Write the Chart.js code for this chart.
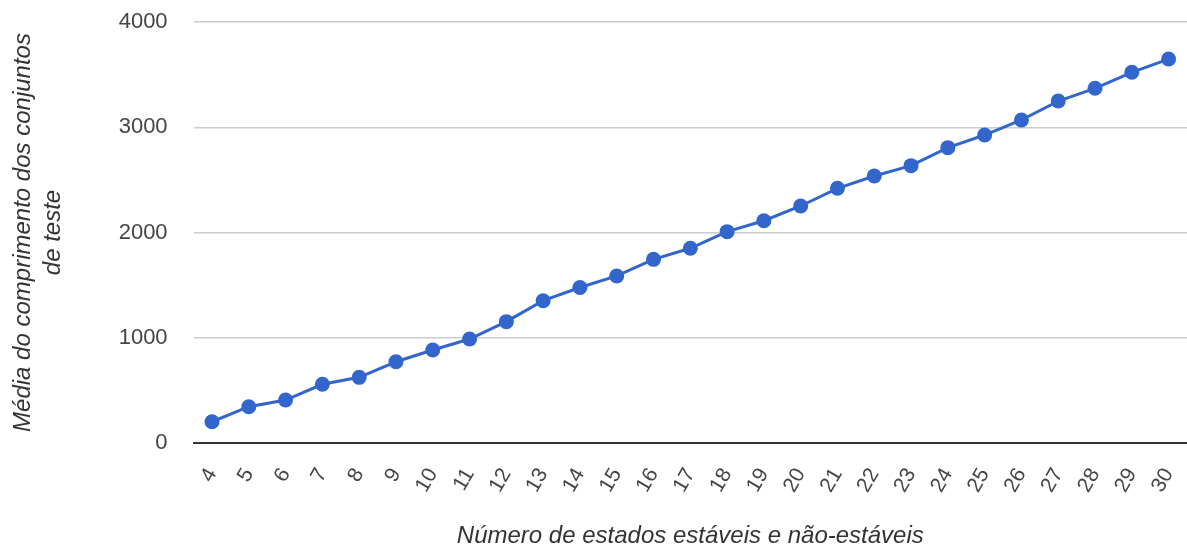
<!DOCTYPE html>
<html>
<head>
<meta charset="utf-8">
<script src="https://cdn.jsdelivr.net/npm/chart.js@4/dist/chart.umd.min.js"></script>
<style>
  html, body { margin: 0; padding: 0; background: #fff; }
  #wrap { width: 1187px; height: 547px; }
</style>
</head>
<body>
<div id="wrap"><canvas id="c" width="1187" height="547"></canvas></div>
<script>
// Number of stable and non-stable states
const estados = [4, 5, 6, 7, 8, 9, 10, 11, 12, 13, 14, 15, 16, 17, 18, 19, 20, 21, 22, 23, 24, 25, 26, 27, 28, 29, 30];
// Average length of the test sets
const mediaComprimento = [202, 345, 408, 558, 624, 772, 884, 988, 1153, 1352, 1477, 1587, 1745, 1850, 2008, 2112, 2252, 2420, 2537, 2635, 2806, 2926, 3069, 3249, 3370, 3522, 3648];
const yTicks = [0, 1000, 2000, 3000, 4000];

const FONT = "'Liberation Sans', Arial, sans-serif";

new Chart(document.getElementById('c'), {
  type: 'line',
  data: {
    labels: estados.map(String),
    datasets: [{
      data: mediaComprimento,
      borderColor: '#3366cc',
      backgroundColor: '#3366cc',
      pointBackgroundColor: '#3366cc',
      pointBorderColor: '#3366cc',
      borderWidth: 3,
      pointRadius: 7.5,
      pointBorderWidth: 0,
      tension: 0,
      fill: false,
      clip: false
    }]
  },
  options: {
    responsive: false,
    animation: false,
    layout: { autoPadding: false, padding: { left: 8, right: 0, top: 22, bottom: 0 } },
    plugins: { legend: { display: false }, tooltip: { enabled: false } },
    scales: {
      x: {
        offset: true,
        grid: { display: false, drawTicks: false },
        border: { display: true, color: '#333333', width: 2 },
        ticks: {
          color: '#444444',
          font: { family: FONT, size: 21 },
          minRotation: 60,
          maxRotation: 60,
          padding: 21,
          autoSkip: false
        },
        title: {
          display: true,
          text: 'Número de estados estáveis e não-estáveis',
          color: '#333333',
          font: { family: FONT, size: 24, style: 'italic', lineHeight: 1.0 },
          padding: { top: 0, bottom: -1 }
        },
        afterFit: (s) => { s.height = 104; s.paddingLeft = 0; s.paddingRight = 0; }
      },
      y: {
        min: 0,
        max: 4000,
        afterBuildTicks: (s) => { s.ticks = yTicks.map(v => ({ value: v })); },
        grid: { color: '#cccccc', lineWidth: 1.5, drawTicks: false },
        border: { display: false },
        ticks: {
          color: '#444444',
          font: { family: FONT, size: 22 },
          padding: 26,
          callback: (v) => String(v)
        },
        title: {
          display: true,
          text: ['Média do comprimento dos conjuntos', 'de teste'],
          color: '#333333',
          font: { family: FONT, size: 24, style: 'italic', lineHeight: 1.25 },
          padding: { top: 0, bottom: 0 }
        },
        afterFit: (s) => { s.width = 185.6; s.paddingTop = 0; s.paddingBottom = 0; }
      }
    }
  }
});
</script>
</body>
</html>
